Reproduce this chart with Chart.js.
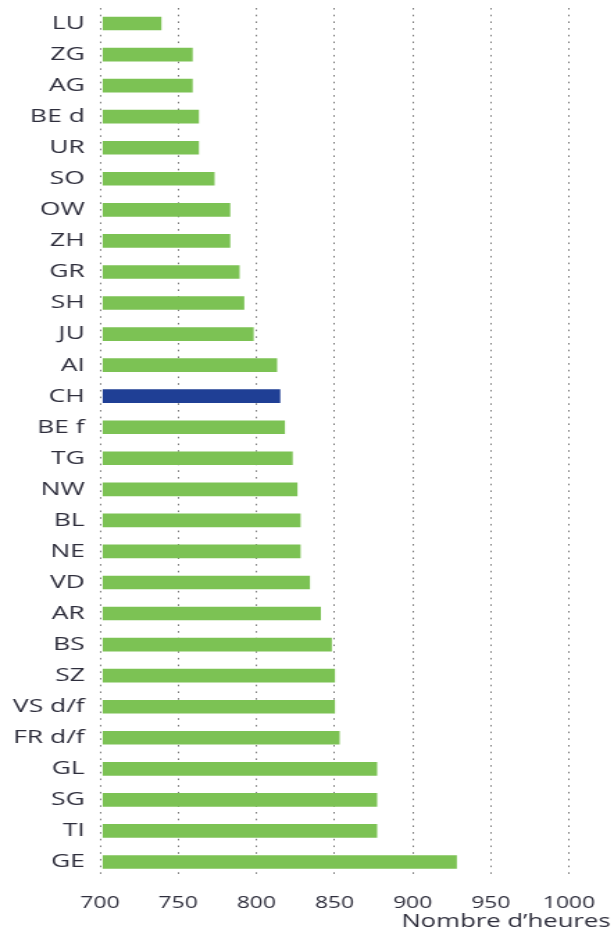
<!DOCTYPE html>
<html lang="fr">
<head>
<meta charset="utf-8">
<title>Nombre d'heures par canton</title>
<script src="https://cdn.jsdelivr.net/npm/chart.js@4/dist/chart.umd.min.js"></script>
<style>
    html, body { margin: 0; padding: 0; background: #fff; overflow: hidden; }
    /* the original picture is stretched horizontally, so the chart is drawn narrow and widened */
    #wrap {
        position: absolute; left: 0; top: 0;
        width: 442px; height: 931px;
        transform: scaleX(1.3891);
        transform-origin: 0 0;
    }
</style>
</head>
<body>
<div id="wrap"><canvas id="hoursChart"></canvas></div>
<script>
// Cantons (de haut en bas)
const cantons = ['LU', 'ZG', 'AG', 'BE d', 'UR', 'SO', 'OW', 'ZH', 'GR', 'SH', 'JU', 'AI', 'CH', 'BE f',
    'TG', 'NW', 'BL', 'NE', 'VD', 'AR', 'BS', 'SZ', 'VS d/f', 'FR d/f', 'GL', 'SG', 'TI', 'GE'];

// Nombre d'heures
const heures = [739, 759, 759, 763, 763, 773, 783, 783, 789, 792, 798, 813, 815, 818,
    823, 826, 828, 828, 834, 841, 848, 850, 850, 853, 877, 877, 877, 928];

// Axe horizontal
const xTicks = [700, 750, 800, 850, 900, 950, 1000];
const xTitle = 'Nombre d\u2019heures';

const greenBar = '#7cc254';
const blueBar = '#1f3f95';
const textColor = '#2e2e3c';

// CH en bleu, les autres en vert
const barColors = cantons.map(c => c === 'CH' ? blueBar : greenBar);

// Titre de l'axe, aligné sur le bord droit de l'image
const axisTitlePlugin = {
    id: 'axisTitle',
    afterDraw(chart) {
        const ctx = chart.ctx;
        ctx.save();
        ctx.font = '18.5px "Open Sans"';
        ctx.fillStyle = textColor;
        ctx.textAlign = 'right';
        ctx.textBaseline = 'alphabetic';
        ctx.fillText(xTitle, chart.width - 2.5, 927);
        ctx.restore();
    }
};

const ctx = document.getElementById('hoursChart').getContext('2d');
new Chart(ctx, {
    type: 'bar',
    data: {
        labels: cantons,
        datasets: [{
            data: heures,
            backgroundColor: barColors,
            borderWidth: 0,
            barThickness: 13,
            base: 702
        }]
    },
    options: {
        indexAxis: 'y',
        responsive: true,
        maintainAspectRatio: false,
        animation: false,
        layout: {
            padding: { top: 8, right: 32.4, bottom: 0, left: 0 }
        },
        plugins: {
            legend: { display: false },
            tooltip: { enabled: false }
        },
        scales: {
            x: {
                min: xTicks[0],
                max: xTicks[xTicks.length - 1],
                afterBuildTicks: scale => {
                    scale.ticks = xTicks.map(v => ({ value: v }));
                },
                afterFit: scale => {
                    scale.height = 53.5;
                    scale.paddingLeft = 0;
                    scale.paddingRight = 0;
                },
                grid: {
                    display: true,
                    drawTicks: false,
                    color: '#7a7a7a',
                    lineWidth: 1
                },
                border: { display: false, dash: [1.6, 5.1] },
                ticks: {
                    color: textColor,
                    padding: 16,
                    font: { family: '"Open Sans"', size: 16.5 },
                    callback: value => String(value)
                }
            },
            y: {
                afterFit: scale => {
                    scale.width = 72;
                    scale.paddingTop = 0;
                    scale.paddingBottom = 0;
                },
                grid: { display: false, drawTicks: false },
                border: { display: false },
                ticks: {
                    color: textColor,
                    padding: 11,
                    font: { family: '"Open Sans"', size: 19 }
                }
            }
        }
    },
    plugins: [axisTitlePlugin]
});
</script>
</body>
</html>
